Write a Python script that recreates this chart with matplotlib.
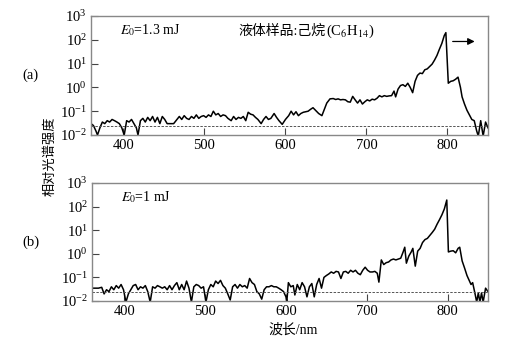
import matplotlib
matplotlib.use("Agg")
import matplotlib.pyplot as plt

plt.rcParams['font.family'] = ['Liberation Serif', 'Noto Sans CJK SC']
plt.rcParams['mathtext.fontset'] = 'stix'

# (a) E0 = 1.3 mJ
wl_a = [360, 363, 366, 368, 371, 374, 377, 380, 383, 386, 389, 392, 395, 398, 401, 404,
        407, 410, 413, 416, 418, 421, 424, 427, 430, 433, 436, 439, 442, 445, 448, 451,
        454, 458, 462, 466, 469, 472, 475, 478, 481, 484, 487, 490, 493, 496, 499, 502,
        505, 508, 511, 514, 517, 520, 523, 526, 529, 533, 536, 539, 542, 545, 548, 551,
        554, 557, 560, 563, 566, 570, 573, 576, 579, 582, 586, 589, 592, 596, 600, 604,
        607, 610, 613, 616, 619, 622, 625, 628, 631, 634, 637, 641, 645, 648, 651, 655,
        659, 662, 665, 668, 671, 674, 677, 680, 683, 686, 689, 692, 695, 698, 701, 704,
        707, 710, 713, 716, 719, 722, 725, 728, 731, 734, 736, 739, 742, 745, 748, 751,
        754, 757, 760, 763, 766, 769, 772, 775, 778, 781, 784, 787, 790, 793, 796, 798,
        801, 804, 807, 810, 813, 816, 818, 821, 824, 827, 830, 833, 836, 838, 841, 844,
        847, 850]
int_a = [0.03, 0.025, 0.015, 0.01, 0.02, 0.035, 0.03, 0.04, 0.035, 0.045, 0.04, 0.035,
         0.03, 0.02, 0.01, 0.04, 0.035, 0.045, 0.03, 0.02, 0.01, 0.04, 0.05, 0.035, 0.055,
         0.04, 0.06, 0.035, 0.055, 0.03, 0.06, 0.045, 0.03, 0.03, 0.03, 0.045, 0.06, 0.045,
         0.065, 0.05, 0.045, 0.06, 0.05, 0.07, 0.05, 0.06, 0.065, 0.055, 0.07, 0.06, 0.1,
         0.07, 0.08, 0.06, 0.07, 0.065, 0.05, 0.04, 0.06, 0.045, 0.055, 0.05, 0.06, 0.04,
         0.09, 0.075, 0.07, 0.055, 0.045, 0.03, 0.045, 0.06, 0.045, 0.05, 0.08, 0.055,
         0.04, 0.028, 0.045, 0.065, 0.1, 0.07, 0.095, 0.065, 0.08, 0.09, 0.095, 0.1, 0.12,
         0.14, 0.11, 0.08, 0.065, 0.12, 0.22, 0.33, 0.34, 0.31, 0.33, 0.3, 0.31, 0.3, 0.25,
         0.24, 0.42, 0.3, 0.22, 0.3, 0.2, 0.25, 0.3, 0.27, 0.32, 0.3, 0.35, 0.45, 0.4,
         0.45, 0.42, 0.44, 0.45, 0.7, 0.4, 0.85, 1.2, 1.3, 1.1, 1.5, 1.0, 0.6, 1.8, 3.2,
         4.0, 3.8, 5.5, 6.0, 7.5, 9.5, 14, 22, 40, 70, 150, 200, 1.5, 1.8, 1.9, 2.2, 2.7,
         1.0, 0.4, 0.2, 0.11, 0.07, 0.045, 0.04, 0.015, 0.009, 0.04, 0.009, 0.035, 0.02]

# (b) E0 = 1 mJ
wl_b = [360, 364, 368, 372, 375, 378, 381, 384, 387, 390, 393, 396, 399, 402, 405, 408,
        411, 414, 417, 420, 423, 426, 429, 432, 435, 438, 441, 444, 447, 450, 453, 456,
        459, 462, 465, 468, 471, 474, 477, 480, 483, 486, 489, 492, 495, 498, 501, 504,
        507, 510, 513, 516, 519, 522, 525, 528, 531, 534, 537, 540, 543, 546, 549, 552,
        555, 558, 561, 564, 567, 570, 573, 576, 579, 582, 585, 588, 591, 594, 597, 600,
        601, 603, 606, 609, 611, 614, 617, 620, 623, 626, 629, 632, 635, 638, 641, 644,
        647, 650, 653, 656, 659, 662, 665, 668, 671, 674, 677, 680, 683, 686, 689, 692,
        695, 698, 701, 704, 707, 710, 713, 715, 718, 721, 724, 727, 730, 733, 736, 739,
        742, 745, 747, 749, 752, 755, 757, 760, 763, 766, 769, 772, 775, 778, 781, 784,
        787, 790, 793, 796, 799, 801, 804, 807, 810, 813, 815, 818, 821, 824, 827, 829,
        831, 834, 836, 838, 840, 842, 844, 847, 850]
int_b = [0.035, 0.035, 0.035, 0.038, 0.02, 0.03, 0.025, 0.04, 0.03, 0.045, 0.035, 0.05,
         0.03, 0.009, 0.02, 0.03, 0.045, 0.05, 0.03, 0.04, 0.035, 0.045, 0.025, 0.009,
         0.04, 0.035, 0.045, 0.04, 0.035, 0.04, 0.03, 0.045, 0.03, 0.045, 0.06, 0.03,
         0.05, 0.03, 0.07, 0.035, 0.009, 0.04, 0.05, 0.045, 0.035, 0.04, 0.009, 0.03,
         0.05, 0.04, 0.07, 0.055, 0.075, 0.045, 0.035, 0.02, 0.011, 0.04, 0.05, 0.035,
         0.05, 0.04, 0.045, 0.035, 0.09, 0.06, 0.05, 0.025, 0.02, 0.012, 0.03, 0.04, 0.04,
         0.045, 0.04, 0.04, 0.035, 0.03, 0.025, 0.015, 0.009, 0.06, 0.04, 0.045, 0.018,
         0.05, 0.03, 0.06, 0.04, 0.015, 0.04, 0.055, 0.015, 0.05, 0.09, 0.035, 0.1, 0.12,
         0.14, 0.17, 0.15, 0.18, 0.17, 0.09, 0.17, 0.18, 0.15, 0.2, 0.17, 0.2, 0.15, 0.13,
         0.2, 0.27, 0.2, 0.17, 0.17, 0.18, 0.15, 0.063, 0.55, 0.35, 0.42, 0.45, 0.55, 0.6,
         0.55, 0.6, 0.65, 1.2, 1.9, 0.4, 0.8, 1.2, 1.7, 0.3, 1.3, 1.7, 3.0, 4.0, 4.5, 6,
         8, 11, 18, 28, 45, 80, 190, 1.2, 1.3, 1.35, 1.1, 1.7, 1.9, 0.5, 0.25, 0.12, 0.07,
         0.05, 0.06, 0.02, 0.009, 0.022, 0.009, 0.022, 0.009, 0.035, 0.025]

baseline = 0.025
xticks = [400, 500, 600, 700, 800]
yticks = [1e-2, 1e-1, 1e0, 1e1, 1e2, 1e3]

fig = plt.figure(figsize=(5.08, 3.47), dpi=100)
ax_a = fig.add_axes([91/508, 1 - 135/347, 397/508, 119/347])
ax_b = fig.add_axes([92/508, 1 - 301/347, 396/508, 118/347])

for ax, wl, inten in [(ax_a, wl_a, int_a), (ax_b, wl_b, int_b)]:
    ax.plot(wl, inten, color='black', lw=1.1)
    ax.axhline(baseline, color='#555555', lw=0.7, ls=(0, (2.5, 1.5)))
    ax.set_yscale('log')
    ax.set_xlim(360, 850)
    ax.set_ylim(1e-2, 1e3)
    ax.set_xticks(xticks)
    ax.set_yticks(yticks)
    ax.minorticks_off()
    ax.tick_params(direction='in', length=5, width=0.8, color='#444444', labelsize=10.5, pad=3)
    for s in ax.spines.values():
        s.set_color('#888888')
        s.set_linewidth(1.0)

ax_a.text(0.073, 0.885, '$E_0$=1.3 mJ', transform=ax_a.transAxes, fontsize=10, va='center')
ax_b.text(0.073, 0.88, '$E_0$=1 mJ', transform=ax_b.transAxes, fontsize=10, va='center')
# CJK part and the formula are separate texts: mathtext would not fall back to the CJK font
t_cn = ax_a.text(0.372, 0.87, '液体样品:己烷', transform=ax_a.transAxes,
                 fontsize=10, va='center')
ax_a.annotate('(C$_6$H$_{14}$)', xy=(1, 0.5), xycoords=t_cn, va='center',
              fontsize=10.5)
ax_a.annotate('', xy=(837, 85), xytext=(803, 85),
              arrowprops=dict(arrowstyle='-|>', color='black', lw=0.9, mutation_scale=10))

fig.text(22/508, 1 - 75/347, '(a)', fontsize=10.5, va='center')
fig.text(22/508, 1 - 242/347, '(b)', fontsize=10.5, va='center')
fig.text(50/508, 1 - 156/347, '相对光谱强度', rotation=90, fontsize=9.5,
         va='center', ha='center')
fig.text(293/508, 1 - 330/347, '波长/nm', fontsize=10, va='center', ha='center')

fig.savefig('out.png', dpi=100)
